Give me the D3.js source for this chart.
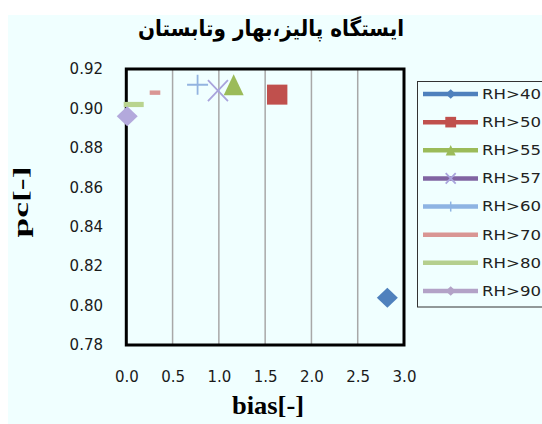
<!DOCTYPE html>
<html><head><meta charset="utf-8">
<script src="https://cdn.jsdelivr.net/npm/d3@7"></script>
<style>html,body{margin:0;padding:0;background:#fff;}svg{display:block;}</style>
</head><body>
<script>
const titleText = "ایستگاه پالیز،بهار وتابستان";
const seriesNames = ["RH>40","RH>50","RH>55","RH>57","RH>60","RH>70","RH>80","RH>90"];
const biasValues = [2.82, 1.63, 1.16, 0.99, 0.77, 0.31, 0.08, 0.01];
const pcValues   = [0.804, 0.907, 0.912, 0.909, 0.912, 0.908, 0.902, 0.896];
const xTicks = [0, 0.5, 1.0, 1.5, 2.0, 2.5, 3.0];
const yTicks = [0.78, 0.80, 0.82, 0.84, 0.86, 0.88, 0.90, 0.92];
const xLabel = "bias[-]";
const yLabel = "pc[-]";

const W = 542, H = 424;
const markerColors = ["#4f81bd","#c0504d","#9bbb59","#a9a4dc","#93b4e0","#d99694","#b9d48f","#b3a9dc"];
const legendColors = ["#4f81bd","#c0504d","#9bbb59","#8064a2","#8eb4e3","#d99694","#b5cf8e","#b3a2c7"];
const markerTypes = ["diamond","square","triangle","x","plus","dashS","dashL","diamond"];

const svg = d3.select("body").append("svg").attr("width", W).attr("height", H);
svg.append("rect").attr("width", W).attr("height", H).attr("fill", "#fff");
svg.append("rect").attr("x", 8).attr("y", 15).attr("width", W - 8).attr("height", H - 15).attr("fill", "#f0ffff");

const x = d3.scaleLinear().domain([0, 3]).range([126.3, 404]);
const y = d3.scaleLinear().domain([0.78, 0.92]).range([345, 69]);

// gridlines
svg.append("g").selectAll("line").data(xTicks.filter(t => t > 0 && t < 3)).join("line")
  .attr("x1", d => x(d)).attr("x2", d => x(d)).attr("y1", y(0.92)).attr("y2", y(0.78))
  .attr("stroke", "#a8a8a8").attr("stroke-width", 1.5);

// frame
svg.append("rect").attr("x", x(0)).attr("y", y(0.92)).attr("width", x(3) - x(0)).attr("height", y(0.78) - y(0.92))
  .attr("fill", "none").attr("stroke", "#000").attr("stroke-width", 3);

// axes (labels only)
const yAxis = d3.axisLeft(y).tickValues(yTicks).tickFormat(d3.format(".2f")).tickSize(0).tickPadding(0);
const gy = svg.append("g").attr("transform", `translate(103,0)`).call(yAxis);
gy.select(".domain").remove();
gy.selectAll("text").attr("font-family", "DejaVu Sans").attr("font-size", 15).attr("fill", "#1a1a1a");

const xAxis = d3.axisBottom(x).tickValues(xTicks).tickFormat(d3.format(".1f")).tickSize(0).tickPadding(0);
const gx = svg.append("g").attr("transform", `translate(0,371)`).call(xAxis);
gx.select(".domain").remove();
gx.selectAll("text").attr("font-family", "DejaVu Sans").attr("font-size", 15).attr("fill", "#1a1a1a");

// marker drawing
function drawMarker(g, type, color, s) {
  if (type === "diamond") {
    g.append("path").attr("d", `M0,${-10*s} L${10.5*s},0 L0,${10*s} L${-10.5*s},0Z`).attr("fill", color);
  } else if (type === "square") {
    g.append("rect").attr("x", -10.2*s).attr("y", -10*s).attr("width", 20.4*s).attr("height", 20*s).attr("fill", color);
  } else if (type === "triangle") {
    g.append("path").attr("d", `M0,${-10.5*s} L${10*s},${10.5*s} L${-10*s},${10.5*s}Z`).attr("fill", color);
  } else if (type === "x") {
    g.append("path").attr("d", `M${-10*s},${-10.5*s} L${10*s},${10.5*s} M${10*s},${-10.5*s} L${-10*s},${10.5*s}`)
      .attr("stroke", color).attr("stroke-width", 1.8).attr("fill", "none");
  } else if (type === "plus") {
    g.append("path").attr("d", `M${-10.5*s},0 L${10.5*s},0 M0,${-10*s} L0,${10*s}`)
      .attr("stroke", color).attr("stroke-width", 1.8).attr("fill", "none");
  } else if (type === "dashS") {
    g.append("rect").attr("x", -5.3*s).attr("y", -2.2*s).attr("width", 10.6*s).attr("height", 4.4*s).attr("fill", color);
  } else if (type === "dashL") {
    g.append("rect").attr("x", -10*s).attr("y", -2.6*s).attr("width", 20*s).attr("height", 5.2*s).attr("fill", color);
  }
}

const pts = seriesNames.map((n, i) => ({ name: n, bias: biasValues[i], pc: pcValues[i], i }));
const mg = svg.append("g");
pts.forEach(p => {
  const g = mg.append("g").attr("transform", `translate(${x(p.bias)},${y(p.pc)})`);
  drawMarker(g, markerTypes[p.i], markerColors[p.i], 1);
});

// legend
const lg = svg.append("g");
lg.append("rect").attr("x", 417.5).attr("y", 81.5).attr("width", 140).attr("height", 225.5)
  .attr("fill", "#f0ffff").attr("stroke", "#333").attr("stroke-width", 1);
const legendY = d3.scalePoint().domain(seriesNames).range([94, 291]);
seriesNames.forEach((n, i) => {
  const cy = legendY(n);
  lg.append("line").attr("x1", 423).attr("x2", 478).attr("y1", cy).attr("y2", cy)
    .attr("stroke", legendColors[i]).attr("stroke-width", 4.5);
  const g = lg.append("g").attr("transform", `translate(450.7,${cy})`);
  const t = markerTypes[i];
  if (t === "diamond") drawMarker(g, t, legendColors[i], 0.48);
  else if (t === "square") drawMarker(g, t, legendColors[i], 0.53);
  else if (t === "triangle") drawMarker(g, t, legendColors[i], 0.5);
  else if (t === "x") drawMarker(g, t, "#a9a4dc", 0.5);
  else if (t === "plus") g.append("line").attr("y1", -5).attr("y2", 5).attr("stroke", legendColors[i]).attr("stroke-width", 1.5);
  lg.append("text").attr("x", 482).attr("y", cy).attr("dy", "0.36em")
    .attr("font-family", "DejaVu Sans").attr("font-size", 13.5).attr("fill", "#222")
    .attr("textLength", 59).attr("lengthAdjust", "spacingAndGlyphs").text(n);
});

// title
svg.append("text").attr("x", 271).attr("y", 36).attr("text-anchor", "middle")
  .attr("font-family", "DejaVu Sans").attr("font-weight", "bold").attr("font-size", 22)
  .attr("fill", "#000").attr("direction", "rtl")
  .attr("textLength", 266).attr("lengthAdjust", "spacingAndGlyphs")
  .text(titleText);

// axis titles
svg.append("text").attr("transform", "translate(28,202) rotate(-90)").attr("text-anchor", "middle")
  .attr("font-family", "Liberation Serif").attr("font-weight", "bold").attr("font-size", 20)
  .attr("textLength", 71).attr("lengthAdjust", "spacingAndGlyphs").text(yLabel);
svg.append("text").attr("transform", "translate(268,414) scale(1,1.15)").attr("text-anchor", "middle")
  .attr("font-family", "Liberation Serif").attr("font-weight", "bold").attr("font-size", 22)
  .attr("textLength", 72).attr("lengthAdjust", "spacingAndGlyphs").text(xLabel);
</script>
</body></html>
